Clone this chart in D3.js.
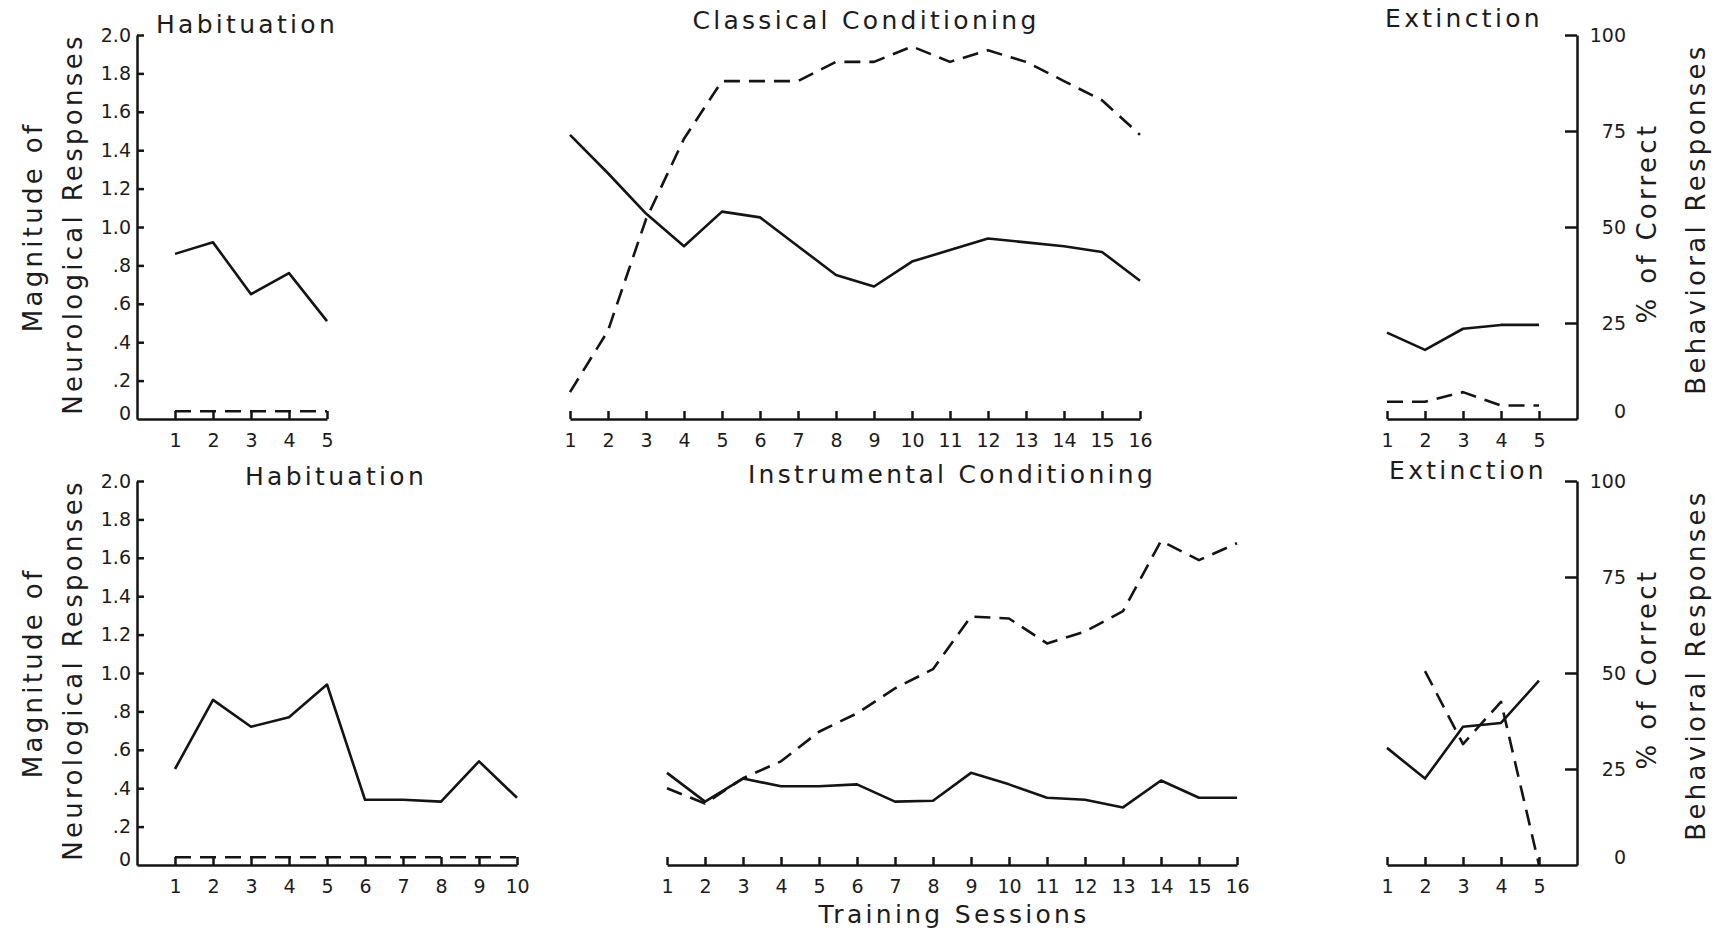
<!DOCTYPE html>
<html>
<head>
<meta charset="utf-8">
<script src="https://cdnjs.cloudflare.com/ajax/libs/d3/7.8.5/d3.min.js"></script>
<style>
  body { margin: 0; background: #fff; }
  text { font-family: "DejaVu Sans", sans-serif; fill: #1c1c1c; }
  .title { font-size: 25px; letter-spacing: 3.3px; }
  .ylabel { font-size: 26px; letter-spacing: 3.3px; }
  .axis text { font-size: 19px; }
  .axis path, .axis line { stroke: #141414; stroke-width: 2.5; }
  .series { fill: none; stroke: #141414; stroke-width: 2.6; stroke-linejoin: round; }
  .dashed { stroke-dasharray: 16, 9; }
</style>
</head>
<body>
<svg id="chart" width="1722" height="932"></svg>
<script>
// ---- data ----
var habitA_sessions = [1, 2, 3, 4, 5];
var habitA_neuro = [0.86, 0.92, 0.65, 0.76, 0.51];
var habitA_behav = [2, 2, 2, 2, 2];

var classical_sessions = [1, 2, 3, 4, 5, 6, 7, 8, 9, 10, 11, 12, 13, 14, 15, 16];
var classical_neuro = [1.48, 1.28, 1.07, 0.90, 1.08, 1.05, 0.90, 0.75, 0.69, 0.82, 0.88, 0.94, 0.92, 0.90, 0.87, 0.72];
var classical_behav = [7, 23, 52, 73, 88, 88, 88, 93, 93, 97, 93, 96, 93, 88, 83, 74];

var extinctA_sessions = [1, 2, 3, 4, 5];
var extinctA_neuro = [0.45, 0.36, 0.47, 0.49, 0.49];
var extinctA_behav = [4.5, 4.5, 7, 3.5, 3.5];

var habitB_sessions = [1, 2, 3, 4, 5, 6, 7, 8, 9, 10];
var habitB_neuro = [0.50, 0.86, 0.72, 0.77, 0.94, 0.34, 0.34, 0.33, 0.54, 0.35];
var habitB_behav = [2, 2, 2, 2, 2, 2, 2, 2, 2, 2];

var instrumental_sessions = [1, 2, 3, 4, 5, 6, 7, 8, 9, 10, 11, 12, 13, 14, 15, 16];
var instrumental_neuro = [0.48, 0.33, 0.45, 0.41, 0.41, 0.42, 0.33, 0.335, 0.48, 0.42, 0.35, 0.34, 0.30, 0.44, 0.35, 0.35];
var instrumental_behav = [20, 16, 22.6, 27, 34.7, 39.5, 46, 51, 64.7, 64.2, 57.7, 60.8, 66.1, 84.4, 79.4, 83.8];

var extinctB_sessions = [1, 2, 3, 4, 5];
var extinctB_neuro = [0.61, 0.45, 0.72, 0.74, 0.96];
var extinctB_behav = [null, 50.5, 31.5, 42.5, 0];

var magTicks = [0, 0.2, 0.4, 0.6, 0.8, 1.0, 1.2, 1.4, 1.6, 1.8, 2.0];
var magTickLabels = ["0", ".2", ".4", ".6", ".8", "1.0", "1.2", "1.4", "1.6", "1.8", "2.0"];
var pctTicks = [0, 25, 50, 75, 100];

// ---- layout ----
var UNIT = 38; // px per session, same in every panel
var rows = {
  top:    { top: 35,  base: 419 },
  bottom: { top: 481, base: 865 }
};
var leftAxisX = 137;
var rightAxisX = 1577;

var svg = d3.select("#chart");

function drawPanel(p) {
  var row = rows[p.row];
  var x = d3.scaleLinear()
    .domain(p.domain)
    .range([p.left, p.left + (p.domain[1] - p.domain[0]) * UNIT]);
  var yMag = d3.scaleLinear().domain([0, 2]).range([row.base, row.top]);
  var yPct = d3.scaleLinear().domain([0, 100]).range([row.base, row.top]);

  svg.append("g")
    .attr("class", "axis")
    .attr("transform", "translate(0," + row.base + ")")
    .call(d3.axisBottom(x)
      .tickValues(p.sessions)
      .tickSize(-8)
      .tickSizeOuter(0)
      .tickPadding(15)
      .tickFormat(d3.format("d")));

  var neuro = p.sessions.map(function(s, i) { return [s, p.neuro[i]]; });
  var behav = p.sessions.map(function(s, i) { return [s, p.behav[i]]; });

  svg.append("path")
    .datum(neuro)
    .attr("class", "series")
    .attr("d", d3.line()
      .x(function(d) { return x(d[0]); })
      .y(function(d) { return yMag(d[1]); }));

  svg.append("path")
    .datum(behav)
    .attr("class", "series dashed")
    .attr("d", d3.line()
      .defined(function(d) { return d[1] != null; })
      .x(function(d) { return x(d[0]); })
      .y(function(d) { return yPct(d[1]); }));

  svg.append("text")
    .attr("class", "title")
    .style("text-anchor", "middle")
    .attr("x", p.titleX)
    .attr("y", p.titleY)
    .text(p.title);

  return { x: x, yMag: yMag, yPct: yPct };
}

function drawLeftAxis(rowName) {
  var row = rows[rowName];
  var yMag = d3.scaleLinear().domain([0, 2]).range([row.base, row.top]);
  // ticks point into the plot, like the original
  var g = svg.append("g")
    .attr("class", "axis")
    .attr("transform", "translate(" + leftAxisX + ",0)")
    .call(d3.axisLeft(yMag)
      .tickValues(magTicks)
      .tickSize(-7)
      .tickSizeOuter(0)
      .tickPadding(6)
      .tickFormat(function(d, i) { return magTickLabels[i]; }));
  g.selectAll(".tick text").filter(function(d) { return d === 0; }).attr("dy", "0.05em");
  g.selectAll(".tick line").filter(function(d) { return d === 0; }).remove();

  var mid = yMag(1);
  svg.append("text")
    .attr("class", "ylabel")
    .style("text-anchor", "middle")
    .attr("transform", "translate(33," + mid + ") rotate(-90)")
    .attr("dy", "0.35em")
    .text("Magnitude of");
  svg.append("text")
    .attr("class", "ylabel")
    .style("text-anchor", "middle")
    .attr("transform", "translate(73," + (mid - 3) + ") rotate(-90)")
    .attr("dy", "0.35em")
    .text("Neurological Responses");
}

function drawRightAxis(rowName) {
  var row = rows[rowName];
  var yPct = d3.scaleLinear().domain([0, 100]).range([row.base, row.top]);
  var g = svg.append("g")
    .attr("class", "axis")
    .attr("transform", "translate(" + rightAxisX + ",0)")
    .call(d3.axisRight(yPct)
      .tickValues(pctTicks)
      .tickSize(-12)
      .tickSizeOuter(0)
      .tickPadding(0));
  g.selectAll(".tick text")
    .attr("x", 49)
    .style("text-anchor", "end");
  g.selectAll(".tick text").filter(function(d) { return d === 0; }).attr("dy", "-0.1em");
  g.selectAll(".tick line").filter(function(d) { return d === 0; }).remove();

  var mid = yPct(50);
  svg.append("text")
    .attr("class", "ylabel")
    .style("text-anchor", "middle")
    .attr("transform", "translate(1647," + (mid - 4) + ") rotate(-90)")
    .attr("dy", "0.35em")
    .text("% of Correct");
  svg.append("text")
    .attr("class", "ylabel")
    .style("text-anchor", "middle")
    .attr("transform", "translate(1696," + (mid - 8) + ") rotate(-90)")
    .attr("dy", "0.35em")
    .text("Behavioral Responses");
}

// ---- top row ----
drawLeftAxis("top");
drawRightAxis("top");
drawPanel({ row: "top", domain: [0, 5], left: leftAxisX, sessions: habitA_sessions,
  neuro: habitA_neuro, behav: habitA_behav, title: "Habituation", titleX: 247, titleY: 33 });
drawPanel({ row: "top", domain: [1, 16], left: 570, sessions: classical_sessions,
  neuro: classical_neuro, behav: classical_behav, title: "Classical Conditioning", titleX: 866, titleY: 29 });
drawPanel({ row: "top", domain: [1, 6], left: rightAxisX - 5 * UNIT, sessions: extinctA_sessions,
  neuro: extinctA_neuro, behav: extinctA_behav, title: "Extinction", titleX: 1464, titleY: 27 });

// ---- bottom row ----
drawLeftAxis("bottom");
drawRightAxis("bottom");
drawPanel({ row: "bottom", domain: [0, 10], left: leftAxisX, sessions: habitB_sessions,
  neuro: habitB_neuro, behav: habitB_behav, title: "Habituation", titleX: 336, titleY: 485 });
drawPanel({ row: "bottom", domain: [1, 16], left: 667, sessions: instrumental_sessions,
  neuro: instrumental_neuro, behav: instrumental_behav, title: "Instrumental Conditioning", titleX: 952, titleY: 483 });
drawPanel({ row: "bottom", domain: [1, 6], left: rightAxisX - 5 * UNIT, sessions: extinctB_sessions,
  neuro: extinctB_neuro, behav: extinctB_behav, title: "Extinction", titleX: 1468, titleY: 479 });

svg.append("text")
  .attr("class", "title")
  .style("text-anchor", "middle")
  .attr("x", 954)
  .attr("y", 923)
  .text("Training Sessions");
</script>
</body>
</html>
